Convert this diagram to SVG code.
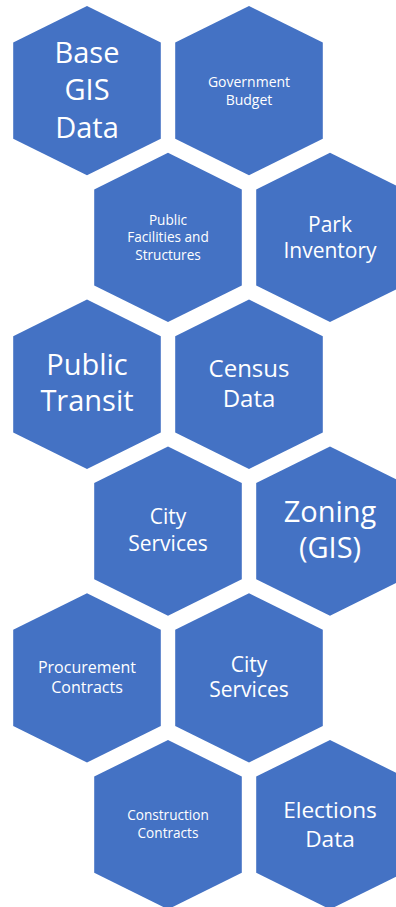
<svg xmlns="http://www.w3.org/2000/svg" xmlns:xlink="http://www.w3.org/1999/xlink" width="396" height="907" viewBox="0 0 396 907">
  <style>
    .hex { fill: #4472C4; }
    .t { fill: #FFFFFF; font-family: "Open Sans", "Noto Sans", "DejaVu Sans", sans-serif; text-anchor: middle; }
  </style>
  <defs>
    <polygon id="hexShape" class="hex" points="0,0 73.8,36.6 73.8,132.8 0,169.3 -73.8,132.8 -73.8,36.6"/>
  </defs>
  <rect width="396" height="907" fill="#FFFFFF"/>
  <g id="connectors"></g>

  <g id="base-gis-data">
    <use xlink:href="#hexShape" href="#hexShape" x="87" y="6"/>
    <text class="t" font-size="29"><tspan x="87" y="63.3">Base</tspan><tspan x="87" y="100">GIS</tspan><tspan x="87" y="138">Data</tspan></text>
  </g>

  <g id="government-budget">
    <use xlink:href="#hexShape" href="#hexShape" x="249" y="6"/>
    <text class="t" font-size="14"><tspan x="249" y="87.3">Government</tspan><tspan x="249" y="105">Budget</tspan></text>
  </g>

  <g id="public-facilities">
    <use xlink:href="#hexShape" href="#hexShape" x="168" y="152.8"/>
    <text class="t" font-size="13.6"><tspan x="168" y="224.6">Public</tspan><tspan x="168" y="242.3">Facilities and</tspan><tspan x="168" y="259.8">Structures</tspan></text>
  </g>

  <g id="park-inventory">
    <use xlink:href="#hexShape" href="#hexShape" x="330" y="152.8"/>
    <text class="t" font-size="21"><tspan x="330" y="231.7">Park</tspan><tspan x="330" y="258.3">Inventory</tspan></text>
  </g>

  <g id="public-transit">
    <use xlink:href="#hexShape" href="#hexShape" x="87" y="299.6"/>
    <text class="t" font-size="29"><tspan x="87" y="375">Public</tspan><tspan x="87" y="410.7">Transit</tspan></text>
  </g>

  <g id="census-data">
    <use xlink:href="#hexShape" href="#hexShape" x="249" y="299.6"/>
    <text class="t" font-size="24"><tspan x="249" y="376.7">Census</tspan><tspan x="249" y="406.7">Data</tspan></text>
  </g>

  <g id="city-services-1">
    <use xlink:href="#hexShape" href="#hexShape" x="168" y="446.4"/>
    <text class="t" font-size="21"><tspan x="168" y="524">City</tspan><tspan x="168" y="550.7">Services</tspan></text>
  </g>

  <g id="zoning-gis">
    <use xlink:href="#hexShape" href="#hexShape" x="330" y="446.4"/>
    <text class="t" font-size="29"><tspan x="330" y="521.7">Zoning</tspan><tspan x="330" y="558.3">(GIS)</tspan></text>
  </g>

  <g id="procurement-contracts">
    <use xlink:href="#hexShape" href="#hexShape" x="87" y="593.2"/>
    <text class="t" font-size="16"><tspan x="87" y="672.7">Procurement</tspan><tspan x="87" y="692.7">Contracts</tspan></text>
  </g>

  <g id="city-services-2">
    <use xlink:href="#hexShape" href="#hexShape" x="249" y="593.2"/>
    <text class="t" font-size="21"><tspan x="249" y="671.7">City</tspan><tspan x="249" y="697.3">Services</tspan></text>
  </g>

  <g id="construction-contracts">
    <use xlink:href="#hexShape" href="#hexShape" x="168" y="740"/>
    <text class="t" font-size="13.6"><tspan x="168" y="820.3">Construction</tspan><tspan x="168" y="837.7">Contracts</tspan></text>
  </g>

  <g id="elections-data">
    <use xlink:href="#hexShape" href="#hexShape" x="330" y="740"/>
    <text class="t" font-size="22.6"><tspan x="330" y="818">Elections</tspan><tspan x="330" y="847">Data</tspan></text>
  </g>
</svg>
